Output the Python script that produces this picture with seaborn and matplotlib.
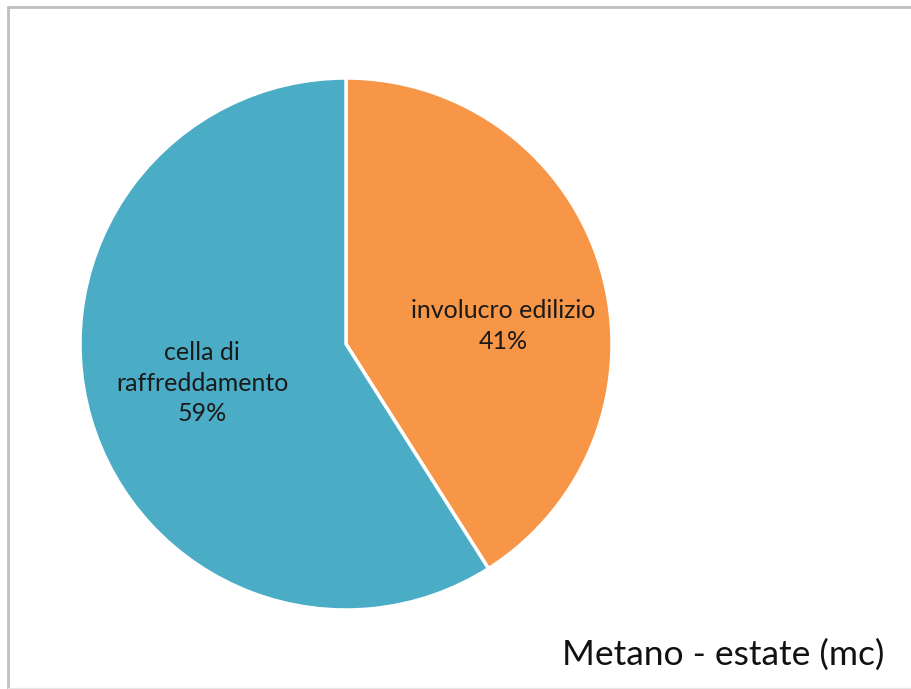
import matplotlib
matplotlib.use("Agg")
import matplotlib.pyplot as plt
from matplotlib.lines import Line2D
import seaborn as sns

# Consumption shares (percent)
categories = ["involucro edilizio", "cella di\nraffreddamento"]
shares = [41, 59]
colors = ["#F79646", "#4BACC6"]
title = "Metano - estate (mc)"

sns.set_theme(style="white")
plt.rcParams["font.family"] = ["Lato", "DejaVu Sans"]

W, H = 911, 689
fig = plt.figure(figsize=(W / 100, H / 100), dpi=100)
fig.patch.set_facecolor("white")

# pie axes: centre (346, 344) px, radius 266 px
cx, cy, r = 346, 344, 266
ax = fig.add_axes([(cx - r) / W, (H - cy - r) / H, 2 * r / W, 2 * r / H])
ax.pie(shares, colors=colors, startangle=90, counterclock=False,
       radius=1.0, wedgeprops=dict(edgecolor="white", linewidth=2.5))
ax.set_xlim(-1, 1)
ax.set_ylim(-1, 1)
ax.set_aspect("equal")
ax.axis("off")

# label anchors in pie-radius units
label_pos = [(0.59, 0.068), (-0.54, -0.147)]
for cat, val, (lx, ly) in zip(categories, shares, label_pos):
    ax.text(lx, ly, f"{cat}\n{val}%", ha="center", va="center",
            fontsize=18, color="#1a1a1a", linespacing=1.4)

fig.text(884 / W, 1 - 655 / H, title, ha="right", va="center",
         fontsize=25.5, color="#111111")

# chart frame
fig.add_artist(Line2D([7.5 / W, 7.5 / W], [0, 1 - 6.5 / H],
                      transform=fig.transFigure, color="#BFBFBF", lw=2))
fig.add_artist(Line2D([7.5 / W, 1], [1 - 6.5 / H, 1 - 6.5 / H],
                      transform=fig.transFigure, color="#BFBFBF", lw=2))
fig.add_artist(Line2D([7.5 / W, 1], [1 - 687.5 / H, 1 - 687.5 / H],
                      transform=fig.transFigure, color="#E6E6E6", lw=1))

fig.savefig("out.png", dpi=100, facecolor="white")
